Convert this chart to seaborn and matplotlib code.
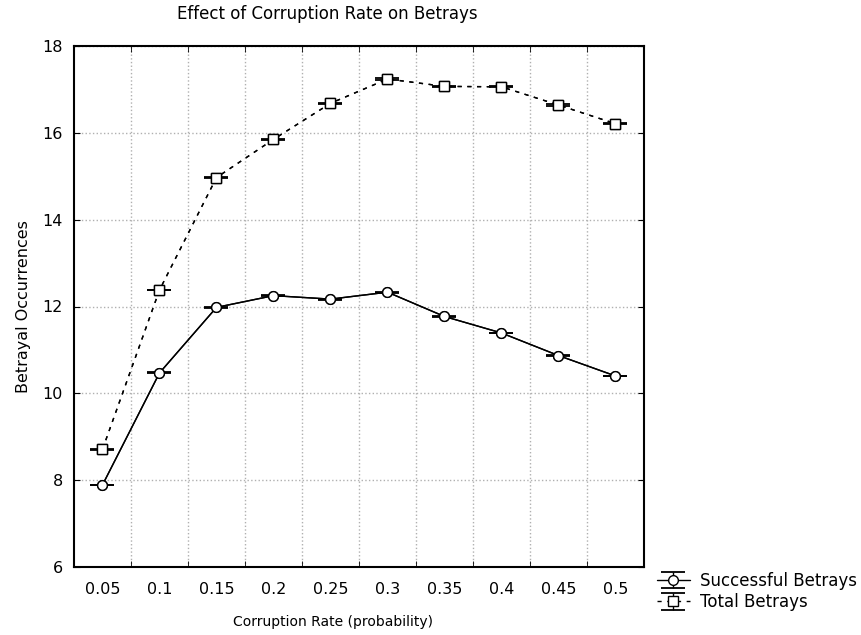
import numpy as np
import pandas as pd
from matplotlib import pyplot as plt
import seaborn as sns

# wartości
corruption_rate = ["0.05", "0.1", "0.15", "0.2", "0.25", "0.3", "0.35", "0.4", "0.45", "0.5"]
successful_betrays = [7.89, 10.47, 11.98, 12.25, 12.17, 12.33, 11.77, 11.39, 10.87, 10.40]
total_betrays = [8.71, 12.38, 14.97, 15.85, 16.68, 17.24, 17.07, 17.06, 16.64, 16.21]
successful_err = [0.01, 0.01, 0.015, 0.01, 0.01, 0.01, 0.015, 0.01, 0.015, 0.01]
total_err = [0.01, 0.01, 0.01, 0.01, 0.01, 0.015, 0.01, 0.01, 0.015, 0.01]

sns.set_style("ticks")
plt.rcParams['font.family'] = ['DejaVu Sans']
plt.rcParams['text.color'] = 'black'
plt.rcParams['axes.labelcolor'] = 'black'
plt.rcParams['xtick.color'] = 'black'
plt.rcParams['ytick.color'] = 'black'

df = pd.DataFrame({
    "pos": np.arange(len(corruption_rate)),
    "Successful Betrays": successful_betrays,
    "Total Betrays": total_betrays,
})

fig = plt.figure(figsize=(8.62, 6.35), dpi=100)
ax = fig.add_axes([74 / 862, 1 - 567 / 635, (644 - 74) / 862, (567 - 46) / 635])

# linie
sns.lineplot(data=df, x="pos", y="Successful Betrays", ax=ax, color="black",
             linewidth=1.0, marker="o", markersize=7, markerfacecolor="white",
             markeredgecolor="black", markeredgewidth=1.0, zorder=3)
sns.lineplot(data=df, x="pos", y="Total Betrays", ax=ax, color="black",
             linewidth=1.0, linestyle=(0, (3, 4)), marker="s", markersize=7,
             markerfacecolor="white", markeredgecolor="black",
             markeredgewidth=1.0, zorder=3)

# słupki błędów (bardzo małe, widoczne głównie jako "wąsy")
h1 = ax.errorbar(df["pos"], successful_betrays, yerr=successful_err, fmt="-o",
                 color="black", lw=1.0, ms=7, mfc="white", mec="black",
                 capsize=8.5, capthick=1.3, elinewidth=1.0, zorder=4,
                 label="Successful Betrays")
h2 = ax.errorbar(df["pos"], total_betrays, yerr=total_err, fmt="s",
                 ls=(0, (3, 4)), color="black", lw=1.0, ms=7, mfc="white",
                 mec="black", capsize=8.5, capthick=1.3, elinewidth=1.0,
                 zorder=4, label="Total Betrays")

ax.set_xlim(-0.5, len(corruption_rate) - 0.5)
ax.set_ylim(6, 18)
ax.set_yticks(np.arange(6, 19, 2))
ax.set_xticks(df["pos"])
ax.set_xticklabels(corruption_rate)

# siatka na granicach kategorii
ax.set_xticks(np.arange(0.5, len(corruption_rate) - 0.5, 1), minor=True)
ax.grid(False)
ax.grid(which="minor", axis="x", color="#b0b0b0", linestyle=":", linewidth=1.0)
ax.grid(which="major", axis="y", color="#b0b0b0", linestyle=":", linewidth=1.0)
ax.tick_params(axis="x", which="major", length=0, labelsize=11.5, pad=11)
ax.tick_params(axis="x", which="minor", direction="in", length=4, top=True, bottom=True)
ax.tick_params(axis="y", which="major", direction="in", length=4, right=True,
               labelsize=11.5, pad=8)
for s in ax.spines.values():
    s.set_visible(True)
    s.set_linewidth(1.5)
    s.set_color("black")

ax.set_xlabel("Corruption Rate (probability)", fontsize=10)
ax.xaxis.set_label_coords((333 - 74) / (644 - 74), -(622 - 567) / (567 - 46))
ax.xaxis.label.set_va("center")
ax.set_ylabel("Betrayal Occurrences", fontsize=11.5, labelpad=8)
fig.text(327 / 862, 1 - 14 / 635, "Effect of Corruption Rate on Betrays",
         ha="center", va="center", fontsize=12)

ax.legend(handles=[h1, h2], loc="upper left", bbox_to_anchor=(645 / 862, 1 - 560 / 635),
          bbox_transform=fig.transFigure,
          frameon=False, fontsize=12, handlelength=2.0, handletextpad=0.6,
          labelspacing=0.2, borderaxespad=0.3)

fig.savefig("out.png", dpi=100)
